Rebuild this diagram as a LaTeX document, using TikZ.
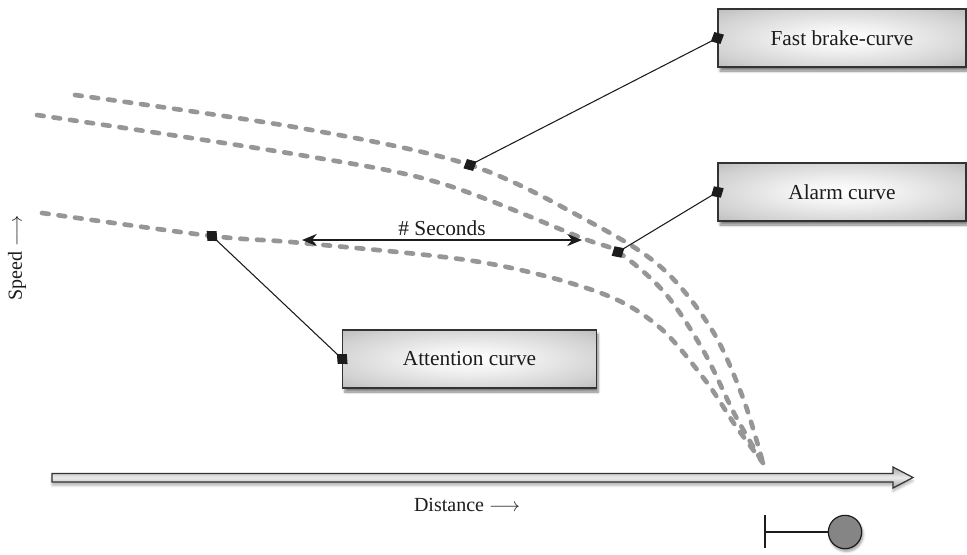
\documentclass[tikz,border=0pt]{standalone}
\usepackage{fontspec}
\setmainfont{Liberation Serif}
\usetikzlibrary{arrows.meta,shadows.blur}

\definecolor{curvegray}{HTML}{969696}
\definecolor{boxedge}{HTML}{333333}
\definecolor{inkc}{HTML}{1C1C1C}
\definecolor{ballgray}{HTML}{858585}

% soft glow: light centre fading to grey at the edges
\pgfdeclareradialshading{boxglow}{\pgfpoint{0bp}{0bp}}{%
  color(0bp)=(white);
  color(10bp)=(white!95!black);
  color(28bp)=(black!18);
  color(50bp)=(black!40);
  color(72bp)=(black!48)}

\begin{document}
\begin{tikzpicture}[x=0.75pt,y=-0.75pt,
  infobox/.style={draw=boxedge, line width=0.9pt, shading=boxglow,
    minimum height=43.5pt,
    text=inkc, font=\fontsize{16}{19}\selectfont,
    blur shadow={shadow xshift=1.5pt, shadow yshift=-3pt, shadow blur steps=6, shadow opacity=50}},
  dcurve/.style={draw=curvegray, line width=3.5pt, line cap=round,
    dash pattern=on 5pt off 7.5pt},
  pin/.style={draw=inkc, line width=0.8pt,
    {Diamond[length=11pt,width=10pt]}-{Diamond[length=11pt,width=10pt]},
    shorten <=-5.5pt, shorten >=-5.5pt},
  secarrow/.style={draw=inkc, line width=1.7pt,
    {Stealth[length=11pt,width=9pt,inset=3.5pt]}-{Stealth[length=11pt,width=9pt,inset=3.5pt]}},
  lab/.style={text=inkc, font=\fontsize{15}{18}\selectfont, inner sep=0pt},
  axisfill/.style={draw=boxedge, line width=0.9pt, line join=miter,
    top color=black!35, bottom color=black!35, middle color=black!8,
    blur shadow={shadow xshift=0pt, shadow yshift=-2.5pt, shadow blur steps=5, shadow opacity=30}}
]
\useasboundingbox (0,0) rectangle (967,554);

% points where the connectors meet the curves
\coordinate (cFast)  at (470,165);
\coordinate (cAlarm) at (618,252);
\coordinate (cAttn)  at (212,236);
\coordinate (secL)   at (302,240);
\coordinate (secR)   at (582,240);
\coordinate (stopPt) at (763,463);

% speed curves, meeting at the stopping point
\draw[dcurve] plot[smooth, tension=0.55] coordinates
  {(75,95) (300,128) (cFast) (590,222) (662,268) (712,330) (743,398) (stopPt)};
\draw[dcurve] plot[smooth, tension=0.55] coordinates
  {(37,115) (300,155) (440,183) (582,238) (cAlarm) (664,292) (703,350) (735,415) (stopPt)};
\draw[dcurve] plot[smooth, tension=0.55] coordinates
  {(42,213) (cAttn) (302,243) (480,262) (598,292) (658,326) (705,380) (735,425) (stopPt)};

% time gap between the curves
\draw[secarrow] (secL) -- (secR)
  node[midway, above=2pt, lab, font=\fontsize{16}{19}\selectfont] (seclab) {\# Seconds};

% labelled boxes
\node[infobox, minimum width=186pt] (fast)  at (842,38)  {Fast brake-curve};
\node[infobox, minimum width=186pt] (alarm) at (842,192) {Alarm curve};
\node[infobox, minimum width=190pt] (attn)  at (469.5,359) {Attention curve};

% connectors
\draw[pin] (fast.west)  -- (cFast);
\draw[pin] (alarm.west) -- (cAlarm);
\draw[pin] (attn.west)  -- (cAttn);

% distance axis
\path[axisfill] (52,473.5) -- (893,473.5) -- (893,467) -- (913,477.5)
  -- (893,488) -- (893,482) -- (52,482) -- cycle;

% axis labels
\node[lab, rotate=90] (speed) at (17,258) {Speed $\longrightarrow$};
\node[lab] (dist) at (467,505) {Distance $\longrightarrow$};

% stop marker
\coordinate (barTop) at (765,515);
\coordinate (barBot) at (765,548);
\coordinate (barMid) at (765,532);
\node[circle, draw=inkc, line width=0.9pt, fill=ballgray, minimum size=25pt,
  inner sep=0pt, blur shadow={shadow xshift=1pt, shadow yshift=-2pt, shadow blur steps=5, shadow opacity=40}] (ball) at (845,532) {};
\draw[inkc, line width=1.2pt] (barTop) -- (barBot);
\draw[inkc, line width=0.8pt] (barMid) -- (ball.west);
\end{tikzpicture}
\end{document}
